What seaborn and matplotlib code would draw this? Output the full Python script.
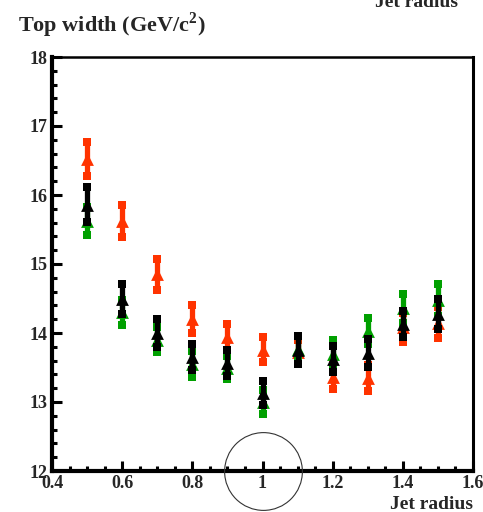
import numpy as np
import pandas as pd
import matplotlib
matplotlib.use('Agg')
import matplotlib.pyplot as plt
import seaborn as sns
from matplotlib.ticker import MultipleLocator, FixedLocator, FixedFormatter

# values
jet_radius = [0.5, 0.6, 0.7, 0.8, 0.9, 1.0, 1.1, 1.2, 1.3, 1.4, 1.5]

red_width = [16.52, 15.62, 14.85, 14.20, 13.94, 13.76, 13.73, 13.36, 13.35, 14.08, 14.15]
red_err = [0.25, 0.23, 0.22, 0.20, 0.19, 0.18, 0.17, 0.17, 0.19, 0.21, 0.22]

green_width = [15.62, 14.30, 13.90, 13.55, 13.50, 13.00, 13.77, 13.70, 14.03, 14.36, 14.48]
green_err = [0.20, 0.18, 0.18, 0.19, 0.17, 0.17, 0.18, 0.20, 0.19, 0.21, 0.23]

black_width = [15.86, 14.49, 14.00, 13.65, 13.57, 13.13, 13.75, 13.62, 13.71, 14.13, 14.28]
black_err = [0.25, 0.22, 0.20, 0.19, 0.19, 0.17, 0.20, 0.19, 0.20, 0.19, 0.22]

x_ticks = [0.4, 0.6, 0.8, 1.0, 1.2, 1.4, 1.6]
x_ticklabels = ['0.4', '0.6', '0.8', '1', '1.2', '1.4', '1.6']
y_ticks = [12, 13, 14, 15, 16, 17, 18]

series = [
    ('red', red_width, red_err, '#ff3300'),
    ('green', green_width, green_err, '#00a000'),
    ('black', black_width, black_err, '#000000'),
]

rows = []
for name, w, e, _ in series:
    for x, v, s in zip(jet_radius, w, e):
        rows.append({'series': name, 'radius': x, 'width': v, 'err': s})
df = pd.DataFrame(rows)
df['lo'] = df['width'] - df['err']
df['hi'] = df['width'] + df['err']

sns.set_style('ticks')
plt.rcParams['font.family'] = ['Liberation Serif', 'DejaVu Serif']
plt.rcParams['font.weight'] = 'bold'
plt.rcParams['mathtext.fontset'] = 'custom'
plt.rcParams['mathtext.rm'] = 'Liberation Serif:bold'
plt.rcParams['mathtext.bf'] = 'Liberation Serif:bold'

fig = plt.figure(figsize=(4.83, 5.12), dpi=100)
ax = fig.add_axes([52 / 483, 41 / 512, 421 / 483, 414 / 512])

# red first, then green, black on top
for i, (name, _, _, col) in enumerate(series):
    d = df[df['series'] == name]
    ax.vlines(d['radius'], d['lo'], d['hi'], color=col, lw=3.8, zorder=3 + i)
    sns.scatterplot(data=d, x='radius', y='hi', marker='s', s=32, color=col,
                    linewidth=0, ax=ax, zorder=3 + i, legend=False)
    sns.scatterplot(data=d, x='radius', y='lo', marker='s', s=32, color=col,
                    linewidth=0, ax=ax, zorder=3 + i, legend=False)
    sns.scatterplot(data=d, x='radius', y='width', marker='^', s=85, color=col,
                    linewidth=0, ax=ax, zorder=3 + i, legend=False)

ax.set_xlim(0.4, 1.6)
ax.set_ylim(12, 18)
ax.set_xlabel('')
ax.set_ylabel('')

ax.xaxis.set_major_locator(FixedLocator(x_ticks))
ax.xaxis.set_major_formatter(FixedFormatter(x_ticklabels))
ax.xaxis.set_minor_locator(MultipleLocator(0.05))
ax.yaxis.set_major_locator(FixedLocator(y_ticks))
ax.yaxis.set_minor_locator(MultipleLocator(0.2))

ax.tick_params(which='both', direction='in', width=2.2, color='black',
               top=False, right=False)
ax.tick_params(which='major', length=7, labelsize=13, pad=3)
ax.tick_params(which='minor', length=3.5)
for lab in ax.get_xticklabels() + ax.get_yticklabels():
    lab.set_fontweight('bold')

ax.spines['left'].set_linewidth(3)
ax.spines['bottom'].set_linewidth(3)
ax.spines['top'].set_linewidth(1.8)
ax.spines['right'].set_linewidth(2.2)
for sp in ax.spines.values():
    sp.set_color('black')

# circle around the R = 1 tick
ax.plot([1.0], [12.0], marker='o', ms=56, mfc='none', mec='#333333', mew=0.8,
        clip_on=False, zorder=10)

fig.text(18 / 483, 1 - 32 / 512, 'Top width (GeV/c$^{2}$)', fontsize=16,
         fontweight='bold', ha='left', va='baseline')
fig.text(458 / 483, 1 - 7 / 512, 'Jet radius', fontsize=14, fontweight='bold',
         ha='right', va='baseline')
fig.text(473 / 483, 3 / 512, 'Jet radius', fontsize=14, fontweight='bold',
         ha='right', va='baseline')

fig.savefig('out.png', dpi=100)
